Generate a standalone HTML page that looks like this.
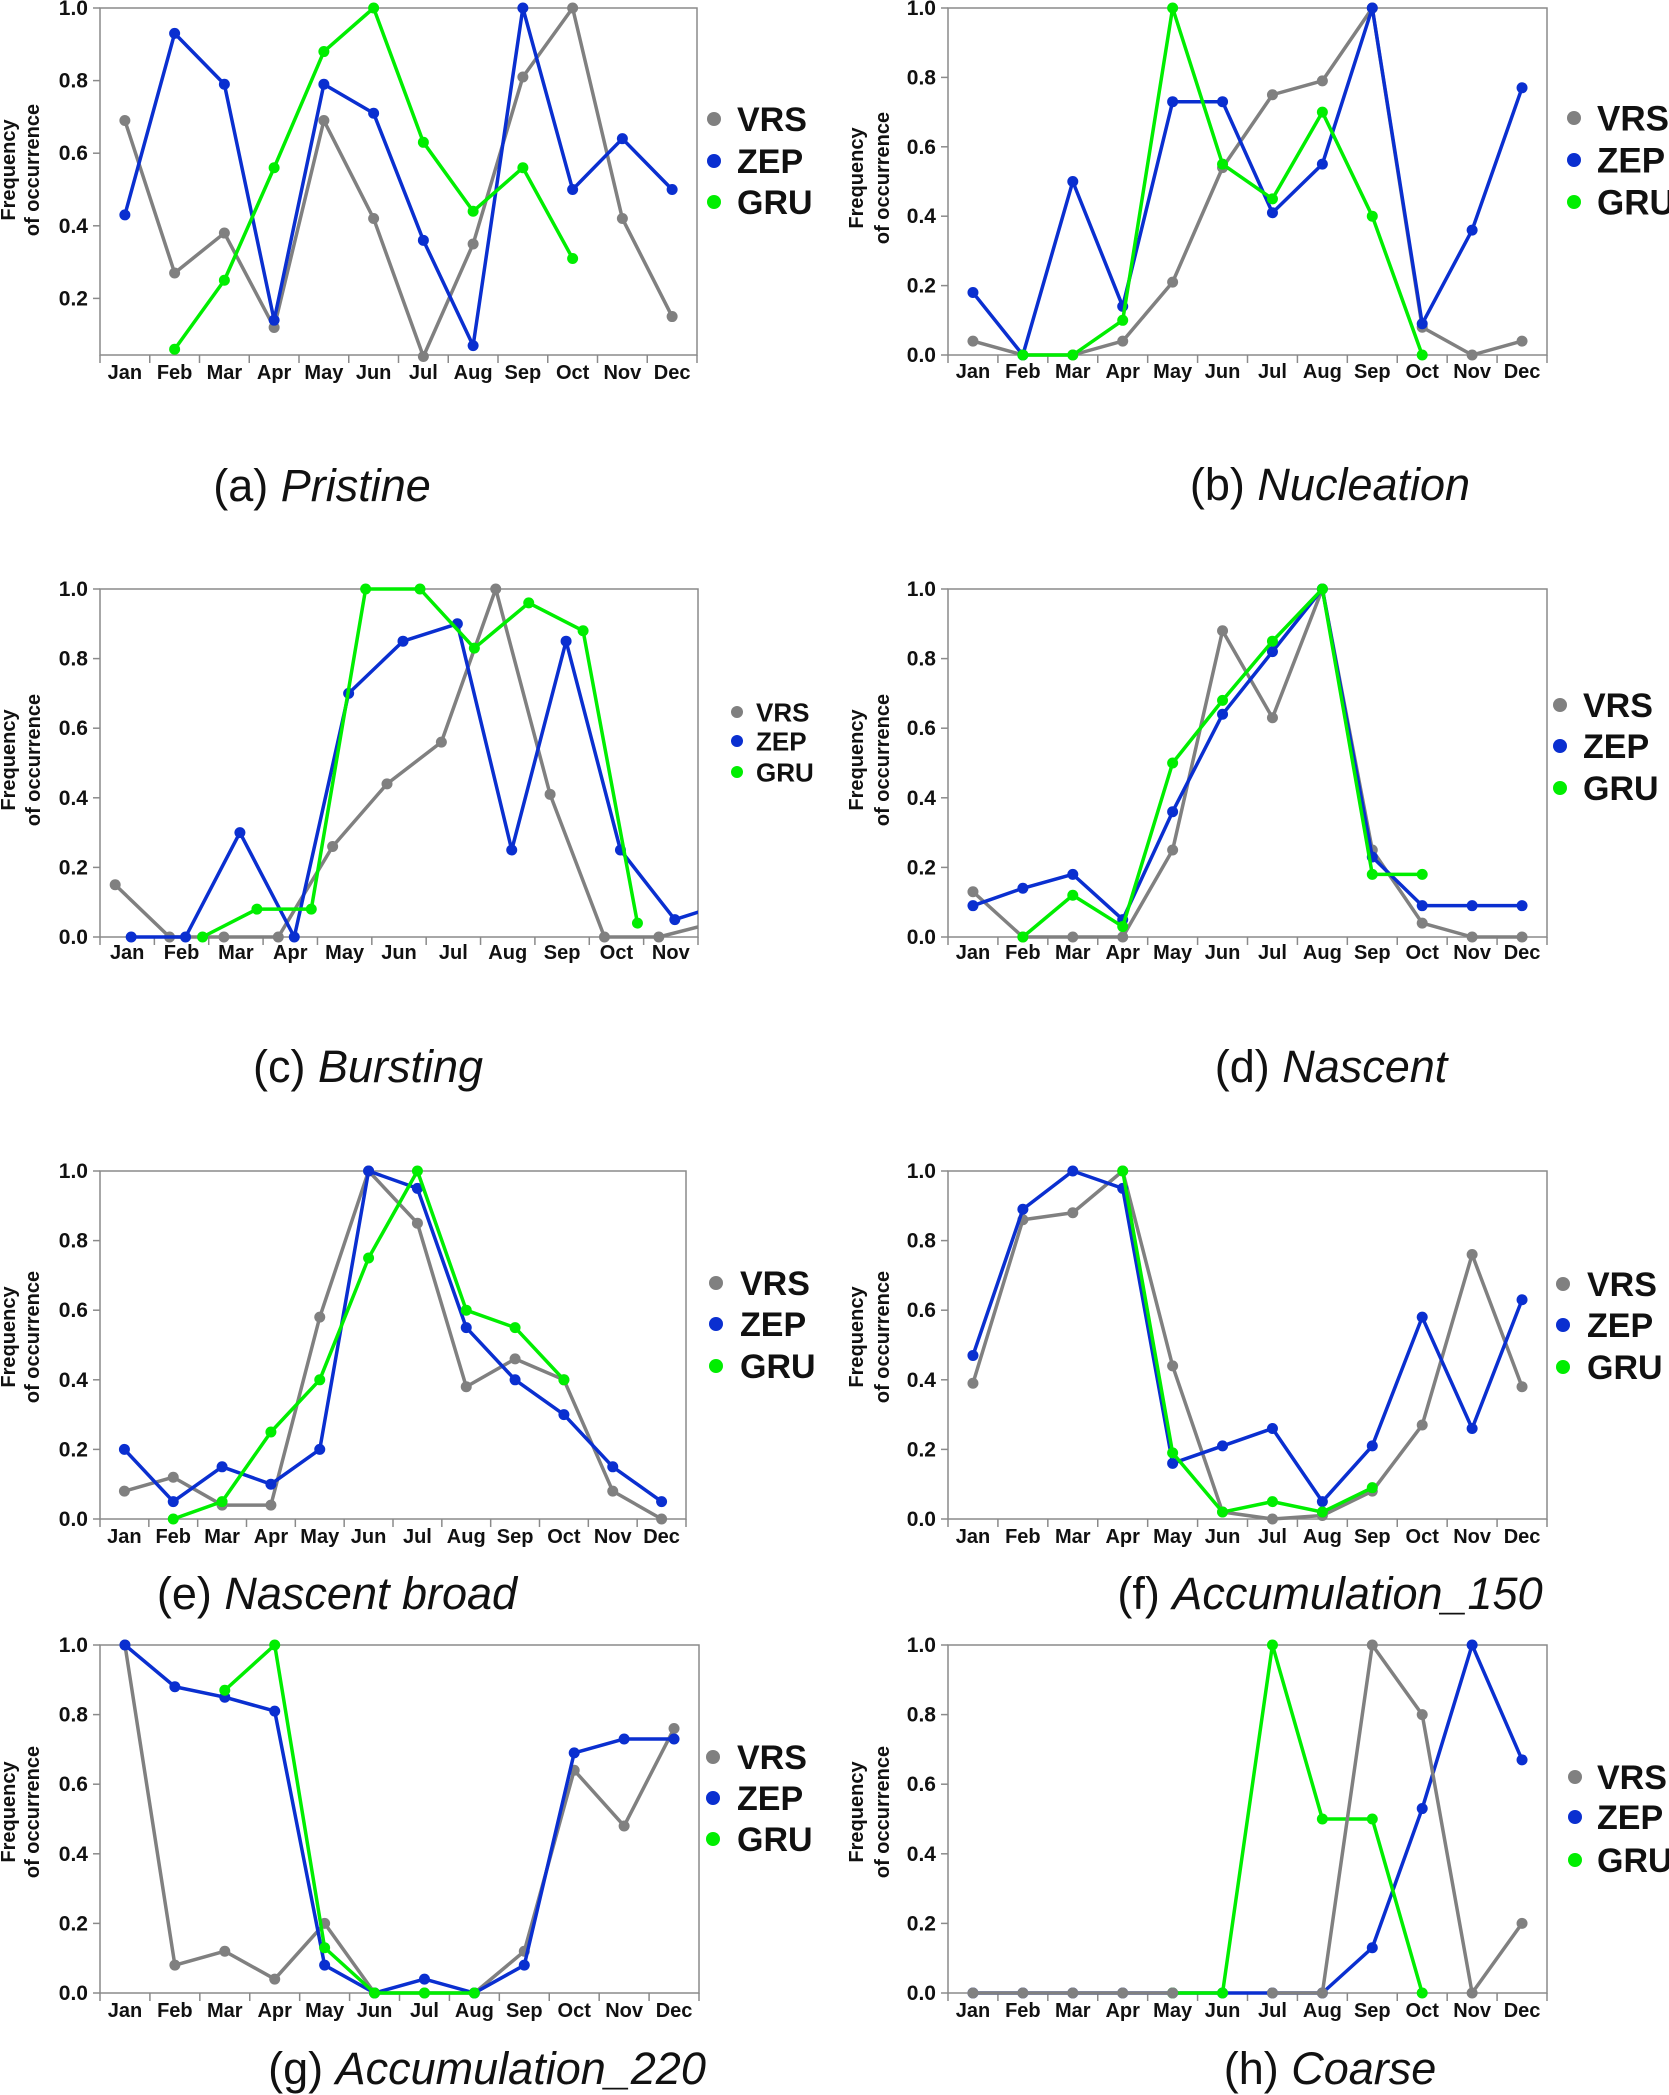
<!DOCTYPE html>
<html><head><meta charset="utf-8"><style>
html,body{margin:0;padding:0;background:#fff;}
svg{display:block;font-family:"Liberation Sans",Arial,sans-serif;}
</style></head><body>
<svg id="fig" width="1669" height="2095" viewBox="0 0 1669 2095" xmlns="http://www.w3.org/2000/svg"></svg>
<script>
const months = ["Jan","Feb","Mar","Apr","May","Jun","Jul","Aug","Sep","Oct","Nov","Dec"];
const monthsC = ["Jan","Feb","Mar","Apr","May","Jun","Jul","Aug","Sep","Oct","Nov"];
const yTicks = [0,0.2,0.4,0.6,0.8,1.0];
const yTicksA = [0.2,0.4,0.6,0.8,1.0];
const yTickLabels = ["0.0","0.2","0.4","0.6","0.8","1.0"];
const yTickLabelsA = ["0.2","0.4","0.6","0.8","1.0"];
// (a) Pristine
const aVRS = [0.69,0.27,0.38,0.12,0.69,0.42,0.04,0.35,0.81,1.0,0.42,0.15];
const aZEP = [0.43,0.93,0.79,0.14,0.79,0.71,0.36,0.07,1.0,0.50,0.64,0.50];
const aGRU = [null,0.06,0.25,0.56,0.88,1.0,0.63,0.44,0.56,0.31,null,null];
// (b) Nucleation
const bVRS = [0.04,0,0,0.04,0.21,0.54,0.75,0.79,1.0,0.08,0,0.04];
const bZEP = [0.18,0,0.50,0.14,0.73,0.73,0.41,0.55,1.0,0.09,0.36,0.77];
const bGRU = [null,0,0,0.10,1.0,0.55,0.45,0.70,0.40,0,null,null];
// (c) Bursting
const cVRS = [0.15,0,0,0,0.26,0.44,0.56,1.0,0.41,0,0,0.04];
const cZEP = [0,0,0.30,0,0.70,0.85,0.90,0.25,0.85,0.25,0.05,0.10];
const cGRU = [null,0,0.08,0.08,1.0,1.0,0.83,0.96,0.88,0.04,null,null];
// (d) Nascent
const dVRS = [0.13,0,0,0,0.25,0.88,0.63,1.0,0.25,0.04,0,0];
const dZEP = [0.09,0.14,0.18,0.05,0.36,0.64,0.82,1.0,0.23,0.09,0.09,0.09];
const dGRU = [null,0,0.12,0.03,0.50,0.68,0.85,1.0,0.18,0.18,null,null];
// (e) Nascent broad
const eVRS = [0.08,0.12,0.04,0.04,0.58,1.0,0.85,0.38,0.46,0.40,0.08,0];
const eZEP = [0.20,0.05,0.15,0.10,0.20,1.0,0.95,0.55,0.40,0.30,0.15,0.05];
const eGRU = [null,0,0.05,0.25,0.40,0.75,1.0,0.60,0.55,0.40,null,null];
// (f) Accumulation_150
const fVRS = [0.39,0.86,0.88,1.0,0.44,0.02,0,0.01,0.08,0.27,0.76,0.38];
const fZEP = [0.47,0.89,1.0,0.95,0.16,0.21,0.26,0.05,0.21,0.58,0.26,0.63];
const fGRU = [null,null,null,1.0,0.19,0.02,0.05,0.02,0.09,null,null,null];
// (g) Accumulation_220
const gVRS = [1.0,0.08,0.12,0.04,0.20,0,0,0,0.12,0.64,0.48,0.76];
const gZEP = [1.0,0.88,0.85,0.81,0.08,0,0.04,0,0.08,0.69,0.73,0.73];
const gGRU = [null,null,0.87,1.0,0.13,0,0,0,null,null,null,null];
// (h) Coarse
const hVRS = [0,0,0,0,0,null,0,0,1.0,0.80,0,0.20];
const hZEP = [0,0,0,0,0,0,0,0,0.13,0.53,1.0,0.67];
const hGRU = [null,null,null,null,0,0,1.0,0.50,0.50,0,null,null];

const COL = {VRS:"#808080", ZEP:"#0a2fd0", GRU:"#00ee00"};
const NS = "http://www.w3.org/2000/svg";
const fig = document.getElementById("fig");
function mk(tag, attrs, parent){const e=document.createElementNS(NS,tag);for(const k in attrs)e.setAttribute(k,attrs[k]);(parent||fig).appendChild(e);return e;}

const panels = [
 {id:"a",word:"Pristine",L:100,R:697,T:8,B:371,axisY:355,cats:months,s:{VRS:aVRS,ZEP:aZEP,GRU:aGRU},ticks:yTicksA,tl:yTickLabelsA,mY:372,
  leg:{dx:714,tx:737,ys:[119,161,202],fs:34,r:7},tt:{x:322,y:485},yl:{x1:8,x2:32,cy:170}},
 {id:"b",word:"Nucleation",L:948,R:1547,T:8,B:355,cats:months,s:{VRS:bVRS,ZEP:bZEP,GRU:bGRU},ticks:yTicks,tl:yTickLabels,mY:371,
  leg:{dx:1574,tx:1597,ys:[118,160,202],fs:35,r:7},tt:{x:1330,y:484},yl:{x1:856,x2:882,cy:178}},
 {id:"c",word:"Bursting",L:100,R:698,T:589,B:937,cats:monthsC,s:{VRS:cVRS,ZEP:cZEP,GRU:cGRU},ticks:yTicks,tl:yTickLabels,mY:952,
  off:{VRS:-12,ZEP:4,GRU:21},leg:{dx:737,tx:756,ys:[712,741,772],fs:26,r:6},tt:{x:368,y:1066},yl:{x1:8,x2:33,cy:760}},
 {id:"d",word:"Nascent",L:948,R:1547,T:589,B:937,cats:months,s:{VRS:dVRS,ZEP:dZEP,GRU:dGRU},ticks:yTicks,tl:yTickLabels,mY:952,
  leg:{dx:1560,tx:1583,ys:[705,746,788],fs:34,r:7},tt:{x:1331,y:1066},yl:{x1:856,x2:882,cy:760}},
 {id:"e",word:"Nascent broad",L:100,R:686,T:1171,B:1519,cats:months,s:{VRS:eVRS,ZEP:eZEP,GRU:eGRU},ticks:yTicks,tl:yTickLabels,mY:1536,
  leg:{dx:716,tx:740,ys:[1283,1324,1366],fs:34,r:7},tt:{x:337,y:1593},yl:{x1:8,x2:32,cy:1337}},
 {id:"f",word:"Accumulation_150",L:948,R:1547,T:1171,B:1519,cats:months,s:{VRS:fVRS,ZEP:fZEP,GRU:fGRU},ticks:yTicks,tl:yTickLabels,mY:1536,
  leg:{dx:1563,tx:1587,ys:[1284,1325,1367],fs:34,r:7},tt:{x:1330,y:1593},yl:{x1:856,x2:882,cy:1337}},
 {id:"g",word:"Accumulation_220",L:100,R:699,T:1645,B:1993,cats:months,s:{VRS:gVRS,ZEP:gZEP,GRU:gGRU},ticks:yTicks,tl:yTickLabels,mY:2010,
  leg:{dx:713,tx:737,ys:[1757,1798,1839],fs:34,r:7},tt:{x:487,y:2068},yl:{x1:8,x2:32,cy:1812}},
 {id:"h",word:"Coarse",L:948,R:1547,T:1645,B:1993,cats:months,s:{VRS:hVRS,ZEP:hZEP,GRU:hGRU},ticks:yTicks,tl:yTickLabels,mY:2010,
  order:["ZEP","GRU","VRS"],leg:{dx:1575,tx:1597,ys:[1777,1817,1860],fs:34,r:7},tt:{x:1330,y:2068},yl:{x1:856,x2:882,cy:1812}}
];

panels.forEach(p=>{
  const g = mk("g",{});
  
  
  const axisY = p.axisY!==undefined ? p.axisY : p.B;
  const n = p.cats.length, cw=(p.R-p.L)/n;
  const yS = v => p.B - v*(p.B-p.T);
  const xS = (i,dx) => p.L + cw*(i+0.5) + (dx||0);
  const fr = mk("rect",{x:p.L,y:p.T,width:p.R-p.L,height:axisY-p.T,fill:"none",stroke:"#8a8a8a","stroke-width":1.5},g);
  
  
  p.ticks.forEach((t,k)=>{
    const y=yS(t);
    mk("line",{x1:p.L-7,x2:p.L,y1:y,y2:y,stroke:"#8a8a8a","stroke-width":1.5},g);
    const tx=mk("text",{x:p.L-12,y:y+7,"text-anchor":"end","font-size":21,"font-weight":"bold",fill:"#111"},g);
    tx.textContent=p.tl[k];
    
    
  });
  for(let i=0;i<=n;i++){
    const x=p.L+cw*i;
    mk("line",{x1:x,x2:x,y1:axisY,y2:axisY+8,stroke:"#8a8a8a","stroke-width":1.5},g);
  }
  p.cats.forEach((m,i)=>{
    const tx=mk("text",{x:xS(i),y:p.mY+7,"text-anchor":"middle","font-size":20,"font-weight":"bold",fill:"#111"},g);
    tx.textContent=m;
    
    
  });
  const yl=mk("text",{transform:`translate(${p.yl.x1+7},${p.yl.cy}) rotate(-90)`,"text-anchor":"middle","font-size":20,"font-weight":"bold",fill:"#111"},g);
  yl.textContent="Frequency";
  
  
  const yl2=mk("text",{transform:`translate(${p.yl.x2+7},${p.yl.cy}) rotate(-90)`,"text-anchor":"middle","font-size":20,"font-weight":"bold",fill:"#111"},g);
  yl2.textContent="of occurrence";
  
  
  const cp=mk("clipPath",{id:"clip"+p.id},g);
  mk("rect",{x:p.L,y:p.T-10,width:p.R-p.L,height:axisY-p.T+20},cp);
  const sg=mk("g",{"clip-path":`url(#clip${p.id})`},g);
  const order=p.order||["VRS","ZEP","GRU"];
  order.forEach(name=>{
    const vals=p.s[name], dx=p.off?p.off[name]:0;
    const sgr=mk("g",{},sg);
    
    
    let seg=[];
    const flush=()=>{ if(seg.length>1){ const pl=mk("polyline",{points:seg.join(" "),fill:"none",stroke:COL[name],"stroke-width":3.5,"stroke-linejoin":"round"},sgr);
        
        } seg=[]; };
    vals.forEach((v,i)=>{ if(v===null){flush();} else seg.push(xS(i,dx)+","+yS(v)); });
    flush();
    vals.forEach((v,i)=>{ if(v===null)return;
      const c=mk("circle",{cx:xS(i,dx),cy:yS(v),r:5.5,fill:COL[name]},sgr);
      
      
    });
  });
  ["VRS","ZEP","GRU"].forEach((name,k)=>{
    const y=p.leg.ys[k];
    const lg=mk("g",{},g);
    
    
    mk("circle",{cx:p.leg.dx,cy:y,r:p.leg.r,fill:COL[name]},lg);
    const t=mk("text",{x:p.leg.tx,y:y+p.leg.fs*0.36,"font-size":p.leg.fs,"font-weight":"bold",fill:"#111"},lg);
    t.textContent=name;
  });
  const tt=mk("text",{x:p.tt.x,y:p.tt.y+16,"text-anchor":"middle","font-size":45,fill:"#111"},g);
  
  
  const t1=mk("tspan",{},tt); t1.textContent="("+p.id+") ";
  const t2=mk("tspan",{"font-style":"italic"},tt); t2.textContent=p.word;
});
</script>
</body></html>
